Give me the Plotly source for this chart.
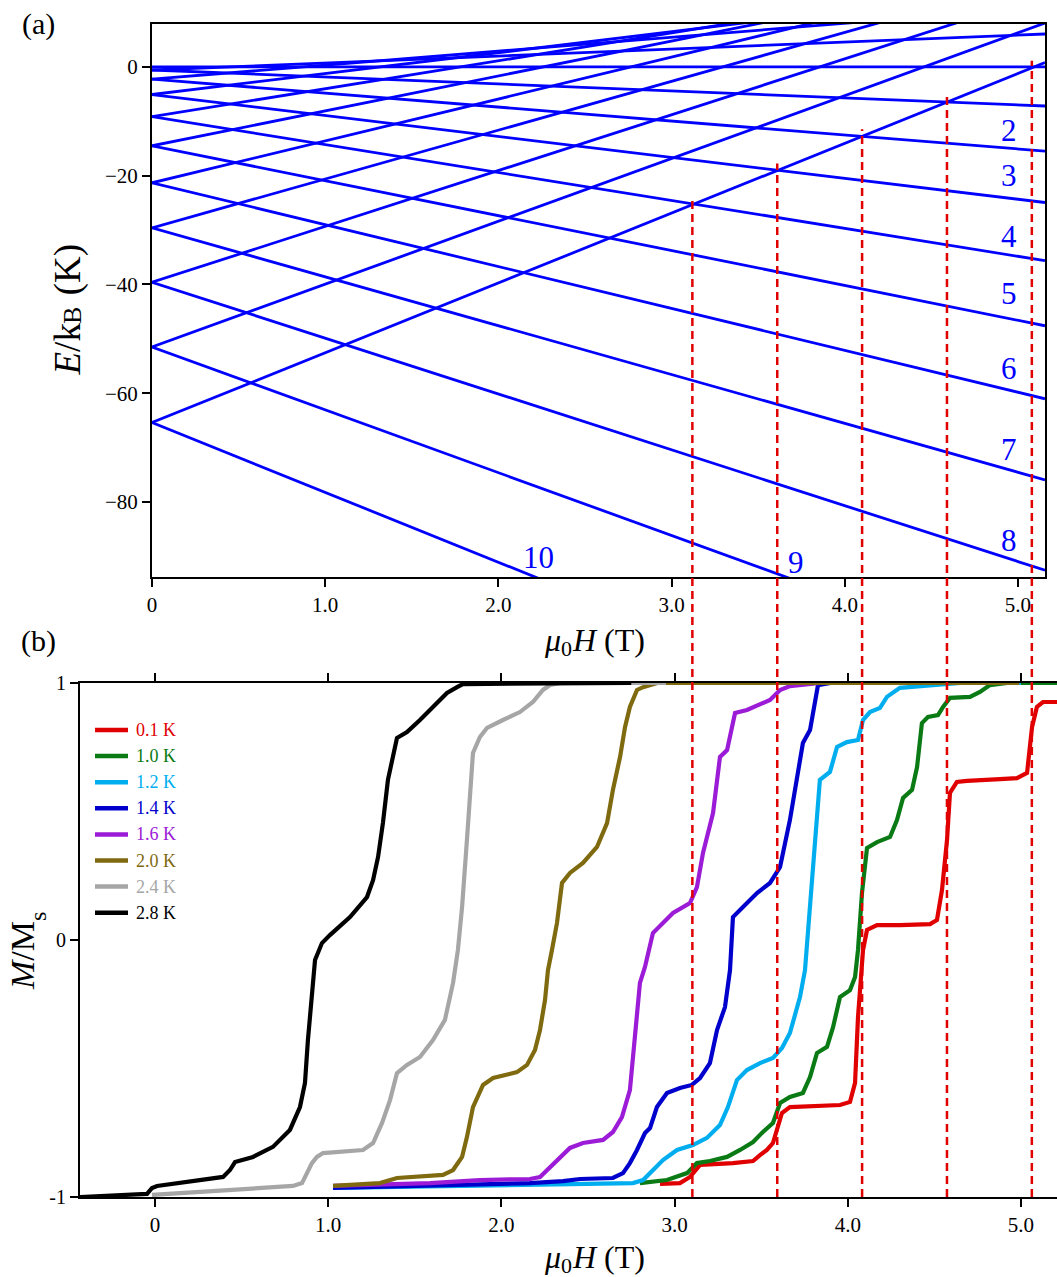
import plotly.graph_objects as go

W, H = 1057, 1277
FONT = "Liberation Serif"

# ---------------- Panel (a): Zeeman diagram ----------------
m_abs = [0, 1, 2, 3, 4, 5, 6, 7, 8, 9, 10]
E0 = [0.0, -0.56, -2.24, -5.07, -9.14, -14.5, -21.3, -29.6, -39.6, -51.5, -65.4]  # K at zero field
zeeman_slope = 1.284   # K/T per unit of m
B_end_a = 5.156
res_fields = [3.12, 3.61, 4.10, 4.59, 5.08]   # dashed resonance lines (T)
level_labels = ["2", "3", "4", "5", "6", "7", "8", "9", "10"]
label_B = [4.95, 4.95, 4.95, 4.95, 4.95, 4.95, 4.95, 3.72, 2.23]
label_E = [-11.6, -19.9, -31.1, -41.7, -55.4, -70.4, -87.0, -91.2, -90.3]

# ---------------- Panel (b): magnetisation curves ----------------
temps = ["0.1 K", "1.0 K", "1.2 K", "1.4 K", "1.6 K", "2.0 K", "2.4 K", "2.8 K"]
colors = ["#e00000", "#0a7a14", "#00aeef", "#0000cd", "#9b1bd6", "#7f6a10", "#a6a6a6", "#000000"]

B_01 = [2.916, 3.031, 3.089, 3.147, 3.337, 3.453, 3.493, 3.533, 3.568, 3.591, 3.620, 3.666, 3.822, 3.955,
        4.013, 4.042, 4.059, 4.088, 4.111, 4.169, 4.301, 4.475, 4.515, 4.544, 4.573, 4.590, 4.630, 4.688,
        4.879, 4.977, 5.035, 5.064, 5.092, 5.127, 5.208]
M_01 = [-0.949, -0.946, -0.922, -0.875, -0.868, -0.860, -0.837, -0.817, -0.790, -0.739, -0.673, -0.650, -0.646, -0.642,
        -0.630, -0.556, -0.300, -0.039, 0.039, 0.058, 0.058, 0.062, 0.078, 0.195, 0.389, 0.572, 0.615, 0.619,
        0.626, 0.630, 0.650, 0.829, 0.907, 0.926, 0.926]

B_10 = [2.800, 2.956, 3.072, 3.129, 3.204, 3.303, 3.378, 3.453, 3.510, 3.568, 3.609, 3.666, 3.741, 3.782,
        3.822, 3.880, 3.915, 3.955, 4.013, 4.042, 4.059, 4.082, 4.111, 4.169, 4.244, 4.284, 4.319, 4.371,
        4.400, 4.428, 4.463, 4.521, 4.550, 4.590, 4.706, 4.763, 4.821, 4.920, 5.208]
M_10 = [-0.946, -0.934, -0.907, -0.868, -0.860, -0.844, -0.817, -0.786, -0.747, -0.712, -0.634, -0.611, -0.595, -0.533,
        -0.440, -0.416, -0.339, -0.222, -0.195, -0.144, -0.039, 0.183, 0.358, 0.381, 0.401, 0.467, 0.553, 0.584,
        0.673, 0.844, 0.868, 0.875, 0.907, 0.942, 0.946, 0.965, 0.992, 1.0, 1.0]

B_12 = [1.028, 2.569, 2.760, 2.818, 2.875, 2.933, 3.014, 3.106, 3.187, 3.262, 3.308, 3.360, 3.418, 3.493,
        3.568, 3.620, 3.666, 3.724, 3.753, 3.782, 3.811, 3.839, 3.897, 3.938, 3.995, 4.059, 4.088, 4.128,
        4.186, 4.226, 4.301, 4.417, 4.650, 5.0]
M_12 = [-0.965, -0.946, -0.946, -0.934, -0.895, -0.856, -0.817, -0.798, -0.770, -0.720, -0.650, -0.545, -0.506, -0.479,
        -0.459, -0.420, -0.362, -0.222, -0.117, 0.128, 0.362, 0.623, 0.654, 0.751, 0.770, 0.778, 0.856, 0.887,
        0.903, 0.946, 0.981, 0.988, 1.0, 1.0]

B_14 = [1.028, 1.778, 2.165, 2.356, 2.454, 2.644, 2.702, 2.742, 2.783, 2.829, 2.858, 2.898, 2.956, 3.031,
        3.100, 3.147, 3.204, 3.245, 3.291, 3.320, 3.337, 3.395, 3.476, 3.551, 3.609, 3.666, 3.707, 3.741,
        3.782, 3.811, 3.828, 3.900, 4.6]
M_14 = [-0.965, -0.953, -0.946, -0.938, -0.930, -0.926, -0.907, -0.868, -0.817, -0.751, -0.732, -0.650, -0.595, -0.576,
        -0.564, -0.537, -0.479, -0.350, -0.261, -0.117, 0.089, 0.128, 0.183, 0.222, 0.284, 0.467, 0.623, 0.767,
        0.817, 0.934, 0.992, 1.0, 1.0]

B_16 = [1.028, 1.588, 1.876, 2.165, 2.223, 2.281, 2.338, 2.396, 2.471, 2.587, 2.644, 2.696, 2.742, 2.771,
        2.800, 2.829, 2.875, 2.991, 3.089, 3.129, 3.164, 3.222, 3.262, 3.303, 3.349, 3.418, 3.551, 3.609,
        3.666, 3.840, 4.2]
M_16 = [-0.957, -0.946, -0.934, -0.930, -0.922, -0.883, -0.844, -0.809, -0.790, -0.778, -0.747, -0.689, -0.584, -0.362,
        -0.167, -0.105, 0.027, 0.105, 0.144, 0.206, 0.339, 0.494, 0.712, 0.739, 0.883, 0.895, 0.934, 0.973,
        0.988, 1.0, 1.0]

B_20 = [1.028, 1.299, 1.397, 1.490, 1.663, 1.721, 1.773, 1.801, 1.836, 1.894, 1.952, 2.090, 2.148, 2.194,
        2.223, 2.252, 2.269, 2.292, 2.321, 2.350, 2.396, 2.471, 2.552, 2.610, 2.644, 2.685, 2.714, 2.742,
        2.783, 2.818, 2.900, 4.99]
M_20 = [-0.957, -0.946, -0.926, -0.922, -0.914, -0.895, -0.844, -0.767, -0.650, -0.564, -0.537, -0.514, -0.486, -0.428,
        -0.350, -0.233, -0.117, -0.039, 0.066, 0.222, 0.261, 0.300, 0.362, 0.455, 0.584, 0.712, 0.829, 0.907,
        0.973, 0.984, 1.0, 1.0]

B_24 = [-0.017, 0.260, 0.647, 0.797, 0.849, 0.866, 0.906, 0.935, 0.970, 1.201, 1.259, 1.311, 1.357, 1.397,
        1.455, 1.530, 1.605, 1.674, 1.721, 1.749, 1.773, 1.801, 1.819, 1.836, 1.876, 1.917, 2.009, 2.107,
        2.182, 2.240, 2.281, 2.340, 2.95]
M_24 = [-0.992, -0.981, -0.965, -0.957, -0.946, -0.922, -0.868, -0.844, -0.829, -0.817, -0.790, -0.712, -0.623, -0.518,
        -0.486, -0.455, -0.389, -0.311, -0.167, -0.039, 0.128, 0.389, 0.584, 0.728, 0.790, 0.825, 0.856, 0.887,
        0.926, 0.973, 0.992, 1.0, 1.0]

B_28 = [-0.433, -0.046, -0.017, 0.012, 0.393, 0.433, 0.462, 0.566, 0.681, 0.779, 0.837, 0.866, 0.883, 0.906,
        0.924, 0.964, 1.010, 1.126, 1.224, 1.259, 1.288, 1.316, 1.345, 1.397, 1.455, 1.530, 1.605, 1.686,
        1.744, 1.778, 2.75]
M_28 = [-1.0, -0.988, -0.965, -0.957, -0.922, -0.895, -0.864, -0.844, -0.805, -0.739, -0.650, -0.556, -0.389, -0.195,
        -0.078, -0.012, 0.019, 0.089, 0.167, 0.233, 0.323, 0.455, 0.623, 0.786, 0.809, 0.856, 0.907, 0.961,
        0.984, 0.996, 1.0]

curves_B = [B_01, B_10, B_12, B_14, B_16, B_20, B_24, B_28]
curves_M = [M_01, M_10, M_12, M_14, M_16, M_20, M_24, M_28]

# ---------------- geometry ----------------
xa_dom = [152 / W, 1045 / W]
ya_dom = [1 - 577 / H, 1 - 24 / H]
xb_dom = [80 / W, 1.0]
yb_dom = [1 - 1197 / H, 1 - 683 / H]
ya_range = [-93.8, 7.9]

fig = go.Figure()

# energy levels
lx, ly = [], []
for m in range(-10, 11):
    e0 = E0[abs(m)]
    lx += [0, B_end_a, None]
    ly += [e0, e0 + zeeman_slope * m * B_end_a, None]
fig.add_trace(go.Scatter(x=lx, y=ly, mode="lines", line=dict(color="#0000ff", width=2.8),
                         xaxis="x", yaxis="y", showlegend=False, hoverinfo="skip"))

# magnetisation curves
for name, col, bx, my in zip(temps, colors, curves_B, curves_M):
    fig.add_trace(go.Scatter(x=bx, y=my, mode="lines", line=dict(color=col, width=4.2),
                             name=name, showlegend=False, xaxis="x2", yaxis="y2"))

# dashed resonance lines spanning both panels
for bres in res_fields:
    e_cross = E0[10] + zeeman_slope * 10 * bres + 1.3
    frac = (e_cross - ya_range[0]) / (ya_range[1] - ya_range[0])
    ytop = ya_dom[0] + frac * (ya_dom[1] - ya_dom[0])
    fig.add_shape(type="line", xref="x", yref="paper", x0=bres, x1=bres, y0=yb_dom[0], y1=ytop,
                  line=dict(color="#e00000", width=2.5, dash="8px,5px"), layer="above")

# legend (coloured text, as in the original figure)
LEG_X0, LEG_X1, LEG_TXC, LEG_Y0, LEG_DY = 95, 128, 156, 730, 26.1
ann = []
for i, (name, col) in enumerate(zip(temps, colors)):
    yy = 1 - (LEG_Y0 + i * LEG_DY) / H
    fig.add_shape(type="line", xref="paper", yref="paper", x0=LEG_X0 / W, x1=LEG_X1 / W, y0=yy, y1=yy,
                  line=dict(color=col, width=4.5))
    ann.append(dict(x=LEG_TXC / W, y=yy, xref="paper", yref="paper", text=name, showarrow=False,
                    xanchor="center", yanchor="middle", font=dict(family=FONT, size=18, color=col)))

axis_common = dict(showline=True, linecolor="black", linewidth=2, ticks="outside", ticklen=8,
                   tickwidth=2, tickcolor="black", showgrid=False, zeroline=False, automargin=False,
                   tickfont=dict(family=FONT, size=21, color="black"))

xt = [0, 1, 2, 3, 4, 5]
xtt = ["0", "1.0", "2.0", "3.0", "4.0", "5.0"]

fig.update_layout(
    width=W, height=H, margin=dict(l=0, r=0, t=0, b=0, pad=0, autoexpand=False),
    paper_bgcolor="white", plot_bgcolor="white", showlegend=False,
    font=dict(family=FONT, color="black", size=18),
    xaxis=dict(domain=xa_dom, range=[0, B_end_a], anchor="y", mirror=True,
               tickvals=xt, ticktext=xtt, **axis_common),
    yaxis=dict(domain=ya_dom, range=ya_range, anchor="x", mirror=True,
               tickvals=[0, -20, -40, -60, -80], ticktext=["0", "\u221220", "\u221240", "\u221260", "\u221280"],
               **axis_common),
    xaxis2=dict(domain=xb_dom, range=[-0.433, 5.208], anchor="y2", mirror="ticks",
                tickvals=xt, ticktext=xtt, **axis_common),
    yaxis2=dict(domain=yb_dom, range=[-1, 1], anchor="x2",
                tickvals=[-1, 0, 1], ticktext=["-1", "0", "1"],
                **{**axis_common, "tickfont": dict(family=FONT, size=20, color="black")}),
)

for t, bx, ey in zip(level_labels, label_B, label_E):
    ann.append(dict(x=bx, y=ey, xref="x", yref="y", text=t, showarrow=False,
                    xanchor="center", yanchor="middle",
                    font=dict(family=FONT, size=31, color="#0000ff")))


def paper_text(px, py, text, size, angle=0, xanchor="center"):
    return dict(x=px / W, y=1 - py / H, xref="paper", yref="paper", text=text, showarrow=False,
                xanchor=xanchor, yanchor="middle", textangle=angle, font=dict(family=FONT, size=size))


ann += [
    paper_text(38, 24, "(a)", 30),
    paper_text(38, 641, "(b)", 30),
    # E/k_B (K), rotated; subscript drawn as its own smaller text
    paper_text(67.5, 349, "<i>E</i>/k", 37, -90),
    paper_text(72, 316, "B", 26, -90),
    paper_text(67.5, 274, " (K)", 37, -90),
    # M/M_s, rotated
    paper_text(22, 956, "<i>M</i>/M", 34, -90),
    paper_text(38, 917, "s", 24, -90),
]
# mu_0 H (T) titles for both panels
for yc in (640, 1257):
    ann += [
        paper_text(542, yc, "<i>\u03bc</i>", 32, 0, "left"),
        paper_text(559, yc + 8, "0", 22, 0, "left"),
        paper_text(570, yc, "<i>H</i> (T)", 32, 0, "left"),
    ]
fig.update_layout(annotations=ann)

fig.write_html("out.html", config={"displayModeBar": False},
               post_script="document.body.style.margin='0px';")
